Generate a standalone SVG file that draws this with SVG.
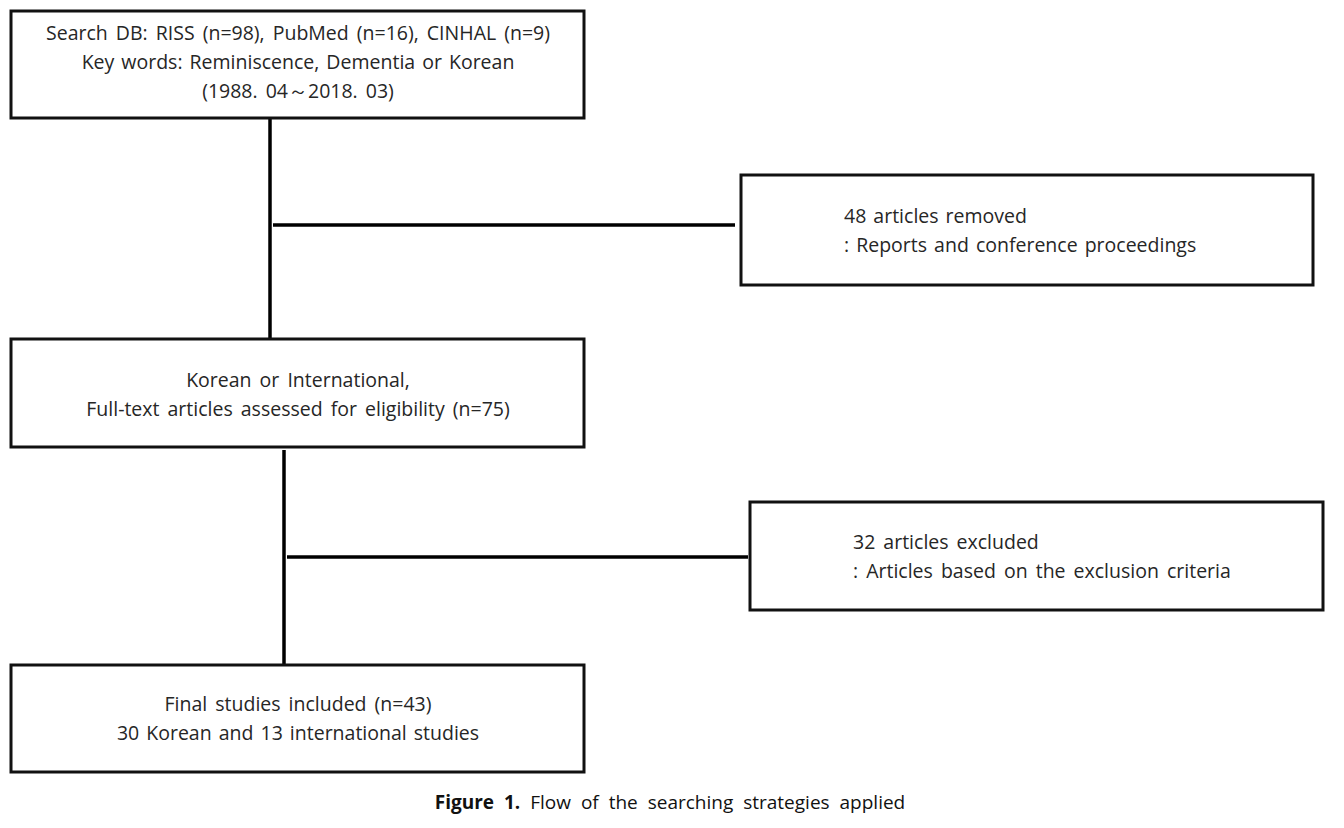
<svg xmlns="http://www.w3.org/2000/svg" width="1344" height="828" viewBox="0 0 1344 828">
<style>
.box{fill:#fff;stroke:#111;stroke-width:3}
.ln{stroke:#000;stroke-width:3.5;fill:none}
.t{font-family:"Open Sans","Noto Sans",sans-serif;font-size:19.5px;fill:#262626;word-spacing:3px}
.c{text-anchor:middle}
.n{word-spacing:2px}
.cap{font-family:"Open Sans","Noto Sans",sans-serif;font-size:19px;fill:#111;word-spacing:5px;text-anchor:middle}
</style>
<rect width="1344" height="828" fill="#fff"/>
<g id="connectors">
<line class="ln" x1="270" y1="118" x2="270" y2="339"/>
<line class="ln" x1="273" y1="225" x2="735" y2="225"/>
<line class="ln" x1="284" y1="450" x2="284" y2="665"/>
<line class="ln" x1="287" y1="557" x2="748" y2="557"/>
</g>
<g id="search">
<rect class="box" x="11" y="11" width="573" height="107"/>
<text class="t c" x="298" y="40">Search DB: RISS (n=98), PubMed (n=16), CINHAL (n=9)</text>
<text class="t c n" x="298" y="69">Key words: Reminiscence, Dementia or Korean</text>
<text class="t c" x="298" y="98">(1988. 04～2018. 03)</text>
</g>
<g id="removed">
<rect class="box" x="741" y="175" width="572" height="110"/>
<text class="t n" x="844" y="223">48 articles removed</text>
<text class="t n" x="844" y="252">: Reports and conference proceedings</text>
</g>
<g id="fulltext">
<rect class="box" x="11" y="339" width="573" height="108"/>
<text class="t c" x="298" y="387">Korean or International,</text>
<text class="t c" x="298" y="416">Full-text articles assessed for eligibility (n=75)</text>
</g>
<g id="excluded">
<rect class="box" x="750" y="502" width="573" height="108"/>
<text class="t" x="853" y="549">32 articles excluded</text>
<text class="t" x="853" y="578">: Articles based on the exclusion criteria</text>
</g>
<g id="final">
<rect class="box" x="11" y="665" width="573" height="107"/>
<text class="t c" x="298" y="711">Final studies included (n=43)</text>
<text class="t c n" x="298" y="740">30 Korean and 13 international studies</text>
</g>
<g id="caption">
<text class="cap" x="670" y="809"><tspan font-weight="bold">Figure 1.</tspan> Flow of the searching strategies applied</text>
</g>
</svg>
